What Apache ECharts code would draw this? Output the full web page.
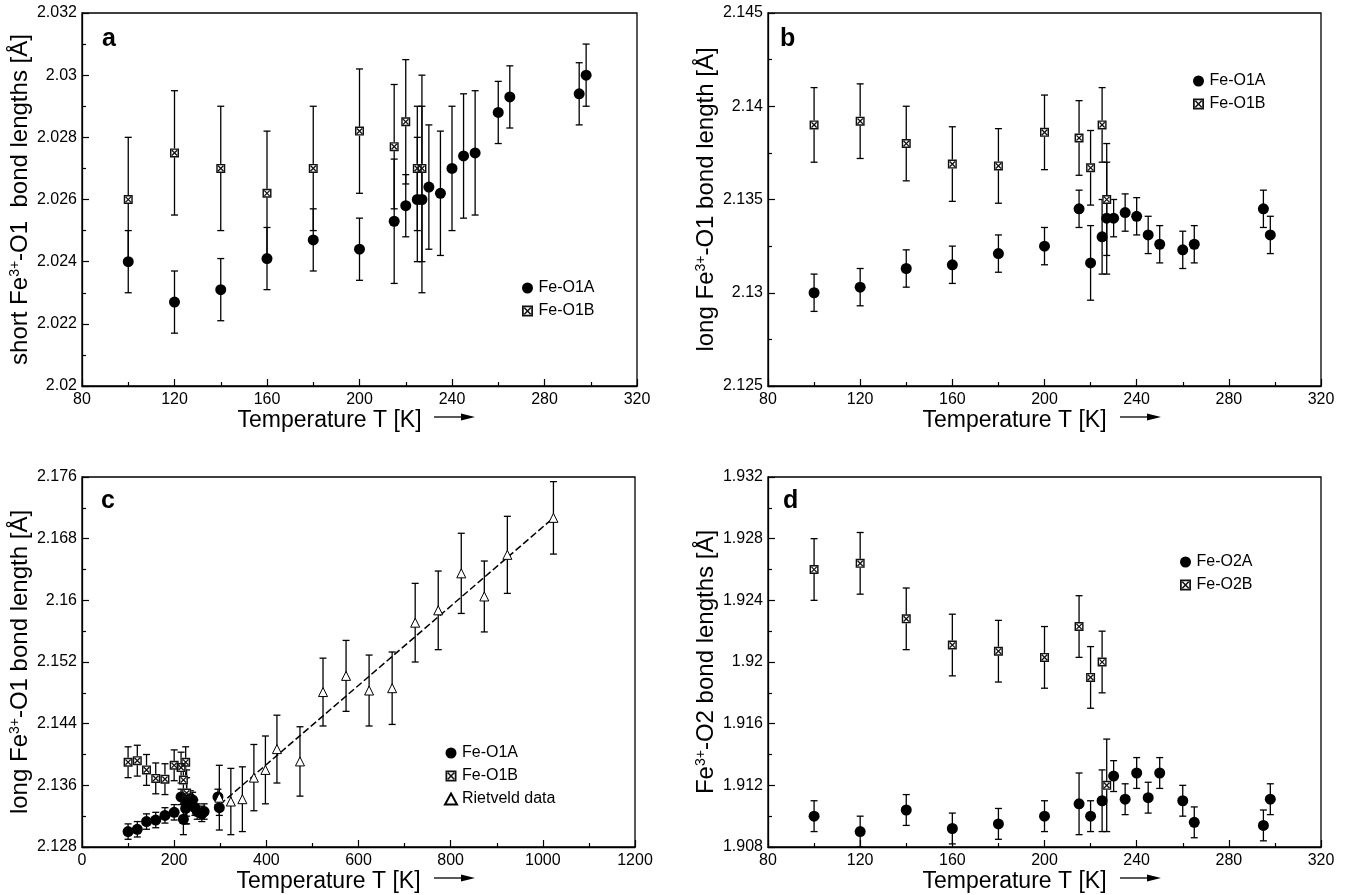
<!DOCTYPE html>
<html>
<head>
<meta charset="utf-8">
<script src="https://cdn.jsdelivr.net/npm/echarts@6/dist/echarts.min.js"></script>
<style>html,body{margin:0;padding:0;background:#fff;}#c{width:1348px;height:895px;}</style>
</head>
<body>
<div id="c"></div>
<script>
// ---------------- DATA ----------------
const T_A = [100,120,140,160,180,200,215,220,225,227,230,235,240,245,250,260,265,295,298];
const T_B = [100,120,140,160,180,200,215,220,225,227];
// panel a : short Fe-O1
const a_O1A     = [2.0240,2.0227,2.0231,2.0241,2.0247,2.0244,2.0253,2.0258,2.0260,2.0260,2.0264,2.0262,2.0270,2.0274,2.0275,2.0288,2.0293,2.0294,2.0300];
const a_O1A_err = [0.001,0.001,0.001,0.001,0.001,0.001,0.002,0.001,0.002,0.003,0.002,0.002,0.002,0.002,0.002,0.001,0.001,0.001,0.001];
const a_O1B     = [2.0260,2.0275,2.0270,2.0262,2.0270,2.0282,2.0277,2.0285,2.0270,2.0270];
const a_O1B_err = [0.002,0.002,0.002,0.002,0.002,0.002,0.002,0.002,0.002,0.003];
// panel b (and c) : long Fe-O1
const b_O1A     = [2.1300,2.1303,2.1313,2.1315,2.1321,2.1325,2.1345,2.1316,2.1330,2.1340,2.1340,2.1343,2.1341,2.1331,2.1326,2.1323,2.1326,2.1345,2.1331];
const b_O1A_err = [0.001,0.001,0.001,0.001,0.001,0.001,0.001,0.002,0.002,0.003,0.001,0.001,0.001,0.001,0.001,0.001,0.001,0.001,0.001];
const b_O1B     = [2.1390,2.1392,2.1380,2.1369,2.1368,2.1386,2.1383,2.1367,2.1390,2.1350];
const b_O1B_err = [0.002,0.002,0.002,0.002,0.002,0.002,0.002,0.002,0.002,0.003];
// panel c : Rietveld data + linear fit
const T_R   = [298,323,348,373,398,423,473,523,573,623,673,723,773,823,873,923,1023];
const R_val = [2.1344,2.1339,2.1342,2.1370,2.1380,2.1407,2.1391,2.1481,2.1502,2.1483,2.1486,2.1571,2.1587,2.1635,2.1605,2.1659,2.1707];
const R_err = [0.0042,0.0043,0.0042,0.0043,0.0044,0.0044,0.0045,0.0044,0.0046,0.0046,0.0047,0.0051,0.0051,0.0052,0.0046,0.0050,0.0047];
const FIT_T = [299,1023];
const FIT_V = [2.1335,2.1707];
// panel d : Fe-O2
const T_DA      = [100,120,140,160,180,200,215,220,225,230,235,240,245,250,260,265,295,298];
const d_O2A     = [1.9100,1.9090,1.9104,1.9092,1.9095,1.9100,1.9108,1.9100,1.9110,1.9126,1.9111,1.9128,1.9112,1.9128,1.9110,1.9096,1.9094,1.9111];
const d_O2A_err = [0.001,0.001,0.001,0.001,0.001,0.001,0.002,0.001,0.002,0.001,0.001,0.001,0.001,0.001,0.001,0.001,0.001,0.001];
const d_O2B     = [1.9260,1.9264,1.9228,1.9211,1.9207,1.9203,1.9223,1.9190,1.9200,1.9120];
const d_O2B_err = [0.002,0.002,0.002,0.002,0.002,0.002,0.002,0.002,0.002,0.003];

// ---------------- STYLE ----------------
const FONT = 'Liberation Sans, Arial, sans-serif';
const SQX = 'path://M0,0L10,0L10,10L0,10Z M1.6,1.6L1.6,8.4L8.4,8.4L8.4,1.6Z M2.6,1.6L8.4,7.4L7.4,8.4L1.6,2.6Z M7.4,1.6L8.4,2.6L2.6,8.4L1.6,7.4Z';

const zip3 = (T, V, E) => T.map((t, i) => [t, V[i], E[i]]);
const zip2 = (T, V) => T.map((t, i) => [t, V[i]]);

function errRender(params, api) {
  const x = api.value(0), y = api.value(1), e = api.value(2);
  const p1 = api.coord([x, y + e]), p2 = api.coord([x, y - e]);
  const hw = 3.5, st = {stroke: '#000', lineWidth: 1.3};
  return {type: 'group', children: [
    {type: 'line', shape: {x1: p1[0], y1: p1[1], x2: p2[0], y2: p2[1]}, style: st},
    {type: 'line', shape: {x1: p1[0] - hw, y1: p1[1], x2: p1[0] + hw, y2: p1[1]}, style: st},
    {type: 'line', shape: {x1: p2[0] - hw, y1: p2[1], x2: p2[0] + hw, y2: p2[1]}, style: st}
  ]};
}
function errSeries(k, T, V, E) {
  return {type: 'custom', xAxisIndex: k, yAxisIndex: k, renderItem: errRender, silent: true, z: 2,
          encode: {x: 0, y: 1}, data: zip3(T, V, E)};
}
function circles(k, name, T, V) {
  return {type: 'scatter', name, xAxisIndex: k, yAxisIndex: k, symbol: 'circle', symbolSize: 11,
          itemStyle: {color: '#000', opacity: 1}, z: 4, data: zip2(T, V)};
}
function squares(k, name, T, V) {
  return [
    {type: 'scatter', xAxisIndex: k, yAxisIndex: k, symbol: 'rect', symbolSize: 9, silent: true,
     itemStyle: {color: '#fff', opacity: 1}, z: 3, data: zip2(T, V)},
    {type: 'scatter', name, xAxisIndex: k, yAxisIndex: k, symbol: SQX, symbolSize: 9,
     itemStyle: {color: '#111', opacity: 1}, z: 4, data: zip2(T, V)}
  ];
}
function triangles(k, name, T, V) {
  return {type: 'scatter', name, xAxisIndex: k, yAxisIndex: k, symbol: 'triangle', symbolSize: 9,
          itemStyle: {color: '#fff', borderColor: '#000', borderWidth: 1, opacity: 1}, z: 4, data: zip2(T, V)};
}

const fmt = v => String(parseFloat(v.toFixed(4)));
function yAxis(k, min, max, interval, name) {
  return {type: 'value', gridIndex: k, min, max, interval,
    axisLine: {show: true, lineStyle: {color: '#000', width: 1.3}},
    axisTick: {show: true, inside: true, length: 7, lineStyle: {color: '#000', width: 1.2}},
    minorTick: {show: true, splitNumber: 2, length: 4, lineStyle: {color: '#000', width: 1.2}},
    splitLine: {show: false},
    axisLabel: {formatter: fmt, color: '#000', fontSize: 16, fontFamily: FONT, margin: 5},
    name, nameLocation: 'middle', nameRotate: 90, nameGap: 50,
    nameTextStyle: {color: '#000', fontSize: 24, fontFamily: FONT,
      rich: {m: {fontSize: 24, fontFamily: FONT, color: '#000'},
             sup: {fontSize: 14, fontFamily: FONT, color: '#000', verticalAlign: 'top', padding: [0, 0, 10, 0]}}}
  };
}
function xAxis(k, min, max, interval) {
  return {type: 'value', gridIndex: k, min, max, interval,
    axisLine: {show: true, lineStyle: {color: '#000', width: 1.3}},
    axisTick: {show: true, inside: true, length: 7, lineStyle: {color: '#000', width: 1.2}},
    minorTick: {show: true, splitNumber: 2, length: 4, lineStyle: {color: '#000', width: 1.2}},
    splitLine: {show: false},
    axisLabel: {formatter: fmt, color: '#000', fontSize: 16, fontFamily: FONT, margin: 6},
    name: 'Temperature T [K]', nameLocation: 'middle', nameGap: 17,
    nameTextStyle: {color: '#000', fontSize: 23, fontFamily: FONT, padding: [0, 60, 0, 0]}
  };
}

const GRIDS = [
  {left: 82, top: 13, width: 555, height: 373},
  {left: 768, top: 13, width: 553, height: 373},
  {left: 82, top: 477, width: 553, height: 370},
  {left: 768, top: 477, width: 553, height: 370}
];

function legend(left, top, items) {
  return {left, top, orient: 'vertical', itemGap: 7, itemWidth: 12, itemHeight: 11, selectedMode: false,
          textStyle: {color: '#000', fontSize: 16, fontFamily: FONT}, data: items};
}
function arrow(x, y) {
  return {type: 'group', children: [
    {type: 'line', shape: {x1: x, y1: y, x2: x + 30, y2: y}, style: {stroke: '#000', lineWidth: 1.3}},
    {type: 'polygon', shape: {points: [[x + 27, y - 3.5], [x + 41, y], [x + 27, y + 3.5]]}, style: {fill: '#000'}}
  ]};
}
function panelLabel(x, y, t) {
  return {type: 'text', left: x, top: y, style: {text: t, fontSize: 25, fontWeight: 'bold', fontFamily: FONT, fill: '#000'}};
}

const option = {
  backgroundColor: '#fff',
  animation: false,
  grid: GRIDS.map(g => Object.assign({show: true, borderColor: '#000', borderWidth: 1.3, backgroundColor: 'transparent'}, g)),
  xAxis: [xAxis(0, 80, 320, 40), xAxis(1, 80, 320, 40), xAxis(2, 0, 1200, 200), xAxis(3, 80, 320, 40)],
  yAxis: [
    yAxis(0, 2.02, 2.032, 0.002, '{m|short Fe}{sup|3+}{m|-O1  bond lengths [Å]}'),
    yAxis(1, 2.125, 2.145, 0.005, '{m|long Fe}{sup|3+}{m|-O1 bond length [Å]}'),
    yAxis(2, 2.128, 2.176, 0.008, '{m|long Fe}{sup|3+}{m|-O1 bond length [Å]}'),
    yAxis(3, 1.908, 1.932, 0.004, '{m|Fe}{sup|3+}{m|-O2 bond lengths [Å]}')
  ],
  legend: [
    legend(517, 275, [{name: 'Fe-O1A', icon: 'circle'}, {name: 'Fe-O1B', icon: SQX}]),
    legend(1188, 68, [{name: 'Fe-O1A', icon: 'circle'}, {name: 'Fe-O1B', icon: SQX}]),
    legend(439, 740, [{name: 'Fe-O1A', icon: 'circle'}, {name: 'Fe-O1B', icon: SQX}, {name: 'Rietveld data', icon: 'triangle'}]),
    legend(1175, 549, [{name: 'Fe-O2A', icon: 'circle'}, {name: 'Fe-O2B', icon: SQX}])
  ],
  graphic: [
    panelLabel(102, 27, 'a'), panelLabel(780, 27, 'b'), panelLabel(101, 489, 'c'), panelLabel(783, 489, 'd'),
    arrow(434, 417), arrow(1120, 417), arrow(434, 878), arrow(1120, 878)
  ],
  series: [
    // panel a
    errSeries(0, T_A, a_O1A, a_O1A_err), errSeries(0, T_B, a_O1B, a_O1B_err),
    circles(0, 'Fe-O1A', T_A, a_O1A), ...squares(0, 'Fe-O1B', T_B, a_O1B),
    // panel b
    errSeries(1, T_A, b_O1A, b_O1A_err), errSeries(1, T_B, b_O1B, b_O1B_err),
    circles(1, 'Fe-O1A', T_A, b_O1A), ...squares(1, 'Fe-O1B', T_B, b_O1B),
    // panel c
    errSeries(2, T_A, b_O1A, b_O1A_err), errSeries(2, T_B, b_O1B, b_O1B_err), errSeries(2, T_R, R_val, R_err),
    {type: 'line', xAxisIndex: 2, yAxisIndex: 2, data: zip2(FIT_T, FIT_V), showSymbol: false, silent: true, z: 3,
     lineStyle: {color: '#000', width: 1.5, type: [7, 3]}},
    circles(2, 'Fe-O1A', T_A, b_O1A), ...squares(2, 'Fe-O1B', T_B, b_O1B), triangles(2, 'Rietveld data', T_R, R_val),
    // panel d
    errSeries(3, T_DA, d_O2A, d_O2A_err), errSeries(3, T_B, d_O2B, d_O2B_err),
    circles(3, 'Fe-O2A', T_DA, d_O2A), ...squares(3, 'Fe-O2B', T_B, d_O2B)
  ]
};
const chart = echarts.init(document.getElementById('c'), null, {renderer: 'canvas'});
chart.setOption(option);
</script>
</body>
</html>
